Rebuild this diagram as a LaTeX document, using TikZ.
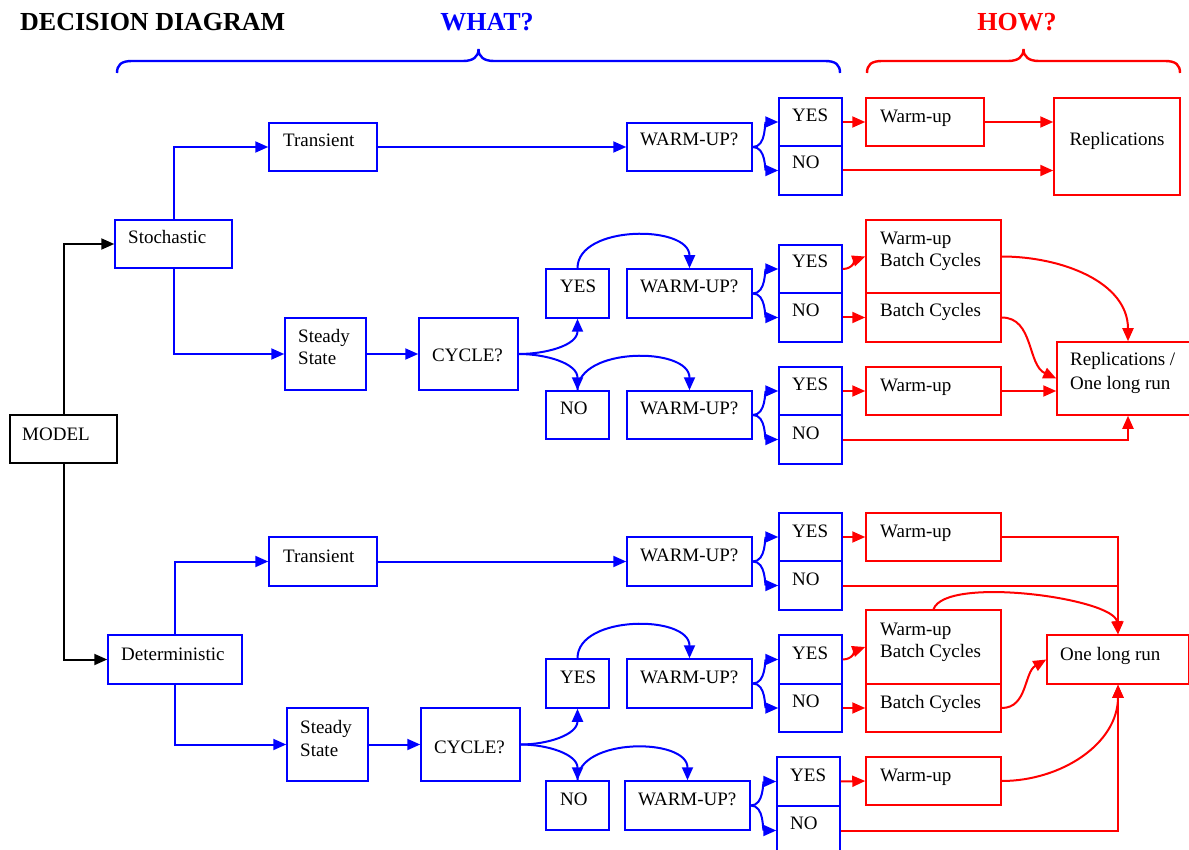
\documentclass[tikz,border=0pt]{standalone}
\usepackage{fontspec}
\setmainfont{Liberation Serif}
\usetikzlibrary{arrows.meta,fit}
\tikzset{
 bbox/.style={draw=blue, line width=1.5pt, inner sep=0pt},
 rbox/.style={draw=red, line width=1.5pt, inner sep=0pt},
 kbox/.style={draw=black, line width=1.5pt, inner sep=0pt},
 tip/.style={-{Triangle[length=13pt,width=11pt]}},
 bl/.style={draw=blue, line width=2pt},
 rl/.style={draw=red, line width=2pt},
 kl/.style={draw=black, line width=2pt},
 lbl/.style={anchor=base west, inner sep=0pt, font=\fontsize{19}{22}\selectfont},
 brc/.style={line width=2.4pt},
}
\newcommand\bx[6]{\node[#2, fit={(#3,-#4) (#5,-#6)}] (#1) {};}
\newcommand\tx[4]{\node[lbl] (#1) at (#2,-#3) {#4};}
\begin{document}
\begin{tikzpicture}[x=1pt,y=1pt]
\useasboundingbox (0,0) rectangle (1189,-850);
% titles
\node[anchor=base west, inner sep=0pt, font=\fontsize{26}{30}\selectfont\bfseries] (title) at (20,-31) {DECISION DIAGRAM};
\node[anchor=base, inner sep=0pt, text=blue, font=\fontsize{26}{30}\selectfont\bfseries] (what) at (487,-31) {WHAT?};
\node[anchor=base, inner sep=0pt, text=red, font=\fontsize{26}{30}\selectfont\bfseries] (how) at (1017,-31) {HOW?};
% braces
\draw[blue, brc] (117,-73) .. controls (117,-65) and (121,-61) .. (132,-61) -- (463,-61) .. controls (473,-61) and (478.5,-57) .. (478.5,-49) .. controls (478.5,-57) and (484,-61) .. (494,-61) -- (825,-61) .. controls (836,-61) and (840,-65) .. (840,-73);
\draw[red, brc] (867,-73) .. controls (867,-65) and (871,-61) .. (882,-61) -- (1008,-61) .. controls (1018,-61) and (1023.5,-57) .. (1023.5,-49) .. controls (1023.5,-57) and (1029,-61) .. (1039,-61) -- (1165,-61) .. controls (1176,-61) and (1180,-65) .. (1180,-73);

% ---------- boxes ----------
\bx{model}{kbox}{10}{415}{117}{463}
\bx{sto}{bbox}{115}{220}{232}{268}
\bx{tr1}{bbox}{269}{123}{377}{171}
\bx{wu1}{bbox}{627}{123}{752}{171}
\bx{a1}{bbox}{779}{98}{842}{146}
\bx{b1}{bbox}{779}{146}{842}{195}
\bx{w1}{rbox}{866}{98}{984}{146}
\bx{rep}{rbox}{1054}{98}{1180}{195}
\bx{ss1}{bbox}{285}{318}{366}{390}
\bx{cy1}{bbox}{419}{318}{518}{390}
\bx{y1}{bbox}{546}{269}{609}{318}
\bx{wu2}{bbox}{627}{269}{752}{318}
\bx{a2}{bbox}{779}{245}{842}{293}
\bx{b2}{bbox}{779}{293}{842}{342}
\bx{wb1}{rbox}{866}{220}{1001}{293}
\bx{bc1}{rbox}{866}{293}{1001}{342}
\bx{n1}{bbox}{546}{391}{609}{439}
\bx{wu3}{bbox}{627}{391}{752}{439}
\bx{a3}{bbox}{779}{367}{842}{415}
\bx{b3}{bbox}{779}{415}{842}{464}
\bx{w3}{rbox}{866}{367}{1001}{415}
\bx{rol}{rbox}{1057}{342}{1199}{415}
\bx{det}{bbox}{108}{635}{242}{684}
\bx{tr2}{bbox}{269}{537}{377}{586}
\bx{wu4}{bbox}{627}{537}{752}{586}
\bx{a4}{bbox}{779}{513}{842}{561}
\bx{b4}{bbox}{779}{561}{842}{610}
\bx{w4}{rbox}{866}{513}{1001}{561}
\bx{olr}{rbox}{1047}{635}{1189}{684}
\bx{ss2}{bbox}{287}{708}{368}{781}
\bx{cy2}{bbox}{421}{708}{520}{781}
\bx{y2}{bbox}{546}{659}{609}{708}
\bx{wu5}{bbox}{627}{659}{752}{708}
\bx{a5}{bbox}{779}{635}{842}{684}
\bx{b5}{bbox}{779}{684}{842}{732}
\bx{wb2}{rbox}{866}{610}{1001}{684}
\bx{bc2}{rbox}{866}{684}{1001}{732}
\bx{n2}{bbox}{546}{781}{609}{830}
\bx{wu6}{bbox}{625}{781}{750}{830}
\bx{a6}{bbox}{777}{757}{840}{806}
\bx{b6}{bbox}{777}{806}{840}{855}
\bx{w6}{rbox}{866}{757}{1001}{805}

% ---------- texts ----------
\tx{tmodel}{22}{440}{MODEL}
\tx{tsto}{128}{244}{Stochastic}
\tx{ttr1}{283}{147}{Transient}
\tx{twu1}{640}{146}{WARM-UP?}
\tx{ta1}{792}{122}{YES}
\tx{tb1}{792}{169}{NO}
\tx{tw1}{880}{123}{Warm-up}
\node[lbl, anchor=base] (trep) at (1117,-146) {Replications};
\tx{tss1a}{298}{342}{Steady}
\tx{tss1b}{298}{364}{State}
\tx{tcy1}{432}{361}{CYCLE?}
\tx{ty1}{560}{293}{YES}
\tx{twu2}{640}{293}{WARM-UP?}
\tx{ta2}{792}{268}{YES}
\tx{tb2}{792}{317}{NO}
\tx{twb1a}{880}{245}{Warm-up}
\tx{twb1b}{880}{267}{Batch Cycles}
\tx{tbc1}{880}{317}{Batch Cycles}
\tx{tn1}{560}{414}{NO}
\tx{twu3}{640}{414}{WARM-UP?}
\tx{ta3}{792}{390}{YES}
\tx{tb3}{792}{439}{NO}
\tx{tw3}{880}{391}{Warm-up}
\tx{trola}{1070}{366}{Replications /}
\tx{trolb}{1070}{389}{One long run}
\tx{tdet}{121}{660}{Deterministic}
\tx{ttr2}{283}{562}{Transient}
\tx{twu4}{640}{561}{WARM-UP?}
\tx{ta4}{792}{537}{YES}
\tx{tb4}{792}{585}{NO}
\tx{tw4}{880}{537}{Warm-up}
\tx{tolr}{1060}{660}{One long run}
\tx{tss2a}{300}{733}{Steady}
\tx{tss2b}{300}{756}{State}
\tx{tcy2}{434}{753}{CYCLE?}
\tx{ty2}{560}{683}{YES}
\tx{twu5}{640}{683}{WARM-UP?}
\tx{ta5}{792}{659}{YES}
\tx{tb5}{792}{707}{NO}
\tx{twb2a}{880}{635}{Warm-up}
\tx{twb2b}{880}{657}{Batch Cycles}
\tx{tbc2}{880}{708}{Batch Cycles}
\tx{tn2}{560}{805}{NO}
\tx{twu6}{638}{805}{WARM-UP?}
\tx{ta6}{790}{781}{YES}
\tx{tb6}{790}{829}{NO}
\tx{tw6}{880}{781}{Warm-up}

% ---------- connectors: model ----------
\draw[kl, tip] (model.north) |- (sto.west);
\draw[kl, tip] (model.south) |- (det.west);

% ---------- stochastic ----------
\draw[bl, tip] (sto.north) |- (tr1.west);
\draw[bl, tip] (sto.south) |- (ss1.west);
\draw[bl, tip] (tr1.east) -- (wu1.west);
\draw[bl, tip] (wu1.east) to[out=0,in=180] (a1.west);
\draw[bl, tip] (wu1.east) to[out=0,in=180] (b1.west);
\draw[rl, tip] (a1.east) -- (w1.west);
\draw[rl, tip] (w1.east) -- (w1.east -| rep.west);
\draw[rl, tip] (b1.east) -- (b1.east -| rep.west);

\draw[bl, tip] (ss1.east) -- (cy1.west);
\draw[bl, tip] (cy1.east) to[out=0,in=-90] (y1.south);
\draw[bl, tip] (cy1.east) to[out=0,in=90] (n1.north);
\draw[bl, tip] (y1.north) to[out=90,in=90] (wu2.north);
\draw[bl, tip] (n1.north) to[out=90,in=90] (wu3.north);
\draw[bl, tip] (wu2.east) to[out=0,in=180] (a2.west);
\draw[bl, tip] (wu2.east) to[out=0,in=180] (b2.west);
\draw[bl, tip] (wu3.east) to[out=0,in=180] (a3.west);
\draw[bl, tip] (wu3.east) to[out=0,in=180] (b3.west);
\draw[rl, tip] (a2.east) to[out=0,in=200] (wb1.west);
\draw[rl, tip] (b2.east) -- (bc1.west);
\draw[rl, tip] (a3.east) -- (w3.west);
\draw[rl, tip] (wb1.east) to[out=0,in=90] (rol.north);
\draw[rl, tip] (bc1.east) to[out=0,in=155] (rol.west);
\draw[rl, tip] (w3.east) -- (w3.east -| rol.west);
\draw[rl, tip] (b3.east) -| (rol.south);

% ---------- deterministic ----------
\draw[bl, tip] (det.north) |- (tr2.west);
\draw[bl, tip] (det.south) |- (ss2.west);
\draw[bl, tip] (tr2.east) -- (wu4.west);
\draw[bl, tip] (wu4.east) to[out=0,in=180] (a4.west);
\draw[bl, tip] (wu4.east) to[out=0,in=180] (b4.west);
\draw[rl, tip] (a4.east) -- (w4.west);
\draw[rl] (b4.east) -- (b4.east -| olr.north);
\draw[rl, tip] (w4.east) -| (olr.north);

\draw[bl, tip] (ss2.east) -- (cy2.west);
\draw[bl, tip] (cy2.east) to[out=0,in=-90] (y2.south);
\draw[bl, tip] (cy2.east) to[out=0,in=90] (n2.north);
\draw[bl, tip] (y2.north) to[out=90,in=90] (wu5.north);
\draw[bl, tip] (n2.north) to[out=90,in=90] (wu6.north);
\draw[bl, tip] (wu5.east) to[out=0,in=180] (a5.west);
\draw[bl, tip] (wu5.east) to[out=0,in=180] (b5.west);
\draw[bl, tip] (wu6.east) to[out=0,in=180] (a6.west);
\draw[bl, tip] (wu6.east) to[out=0,in=180] (b6.west);
\draw[rl, tip] (a5.east) to[out=0,in=200] (wb2.west);
\draw[rl, tip] (b5.east) -- (bc2.west);
\draw[rl, tip] (a6.east) -- (w6.west);
\draw[rl, tip] (wb2.north) .. controls +(12,34) and +(-3,36) .. (olr.north);
\draw[rl, tip] (bc2.east) to[out=0,in=210] (olr.west);
\draw[rl, tip] (w6.east) to[out=0,in=-90] (olr.south);
\draw[rl, tip] (b6.east) -| (olr.south);
\end{tikzpicture}
\end{document}
